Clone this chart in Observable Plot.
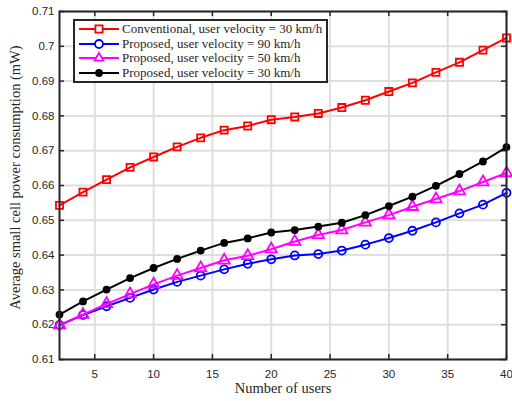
<!DOCTYPE html>
<html>
<head>
<meta charset="utf-8">
<script src="https://cdn.jsdelivr.net/npm/d3@7"></script>
<script src="https://cdn.jsdelivr.net/npm/@observablehq/plot@0.6"></script>
<style>
  html, body { margin: 0; padding: 0; background: #fff; }
  #wrap { position: relative; width: 512px; height: 401px; }
  #legend {
    position: absolute; left: 73px; top: 19px;
    border: 2px solid #262626; background: #fff;
    padding: 1px 4px 1px 3px;
    font-family: "Liberation Serif", serif; font-size: 13px; color: #262626;
  }
  #legend .row { display: flex; align-items: center; height: 14.5px; white-space: nowrap; }
  #legend svg { margin-right: 2px; }
</style>
</head>
<body>
<div id="wrap"><div id="legend"></div></div>
<script>
const users = [2, 4, 6, 8, 10, 12, 14, 16, 18, 20, 22, 24, 26, 28, 30, 32, 34, 36, 38, 40];
const conventional30 = [0.6543, 0.6581, 0.6617, 0.6652, 0.6682, 0.6711, 0.6737, 0.6759, 0.6771, 0.6789, 0.6797, 0.6807, 0.6824, 0.6845, 0.6870, 0.6895, 0.6925, 0.6954, 0.6989, 0.7024];
const proposed90 = [0.6199, 0.6228, 0.6253, 0.6277, 0.6301, 0.6323, 0.6341, 0.6359, 0.6375, 0.6388, 0.6399, 0.6403, 0.6413, 0.6430, 0.6449, 0.6470, 0.6494, 0.6520, 0.6545, 0.6579];
const proposed50 = [0.6199, 0.6229, 0.6260, 0.6288, 0.6316, 0.6341, 0.6363, 0.6385, 0.6398, 0.6417, 0.6439, 0.6458, 0.6472, 0.6494, 0.6515, 0.6539, 0.6561, 0.6584, 0.6610, 0.6636];
const proposed30 = [0.6229, 0.6267, 0.6301, 0.6334, 0.6363, 0.6389, 0.6413, 0.6435, 0.6448, 0.6465, 0.6472, 0.6482, 0.6493, 0.6515, 0.6541, 0.6568, 0.6599, 0.6633, 0.6669, 0.6710];

const seriesNames = [
  "Conventional, user velocity = 30 km/h",
  "Proposed, user velocity = 90 km/h",
  "Proposed, user velocity = 50 km/h",
  "Proposed, user velocity = 30 km/h"
];
const seriesValues = [conventional30, proposed90, proposed50, proposed30];
const seriesColors = ["#ff0000", "#0000ff", "#ff00ff", "#000000"];
const seriesSymbols = ["square", "circle", "triangle", "circle"];
const seriesFill = ["none", "none", "none", "#000000"];
const seriesR = [4, 4, 4.2, 3];

const xTicks = [5, 10, 15, 20, 25, 30, 35, 40];
const yTicks = [0.61, 0.62, 0.63, 0.64, 0.65, 0.66, 0.67, 0.68, 0.69, 0.7, 0.71];
const xLabel = "Number of users";
const yLabel = "Average small cell power consumption (mW)";

const W = 512, H = 401;
const mL = 59, mR = 6, mT = 11, mB = 42;
const fw = W - mL - mR, fh = H - mT - mB;
const tickLen = 5;

const rows = [];
seriesValues.forEach((vals, s) => {
  users.forEach((u, i) => rows.push({series: s, x: u, y: vals[i]}));
});

const marks = [
  Plot.gridX(xTicks, {stroke: "#dedede", strokeOpacity: 1, strokeWidth: 2}),
  Plot.gridY(yTicks, {stroke: "#dedede", strokeOpacity: 1, strokeWidth: 2}),
  Plot.tickX(xTicks, {x: d => d, insetTop: fh - tickLen, stroke: "#262626", strokeWidth: 1.5}),
  Plot.tickX(xTicks, {x: d => d, insetBottom: fh - tickLen, stroke: "#262626", strokeWidth: 1.5}),
  Plot.tickY(yTicks, {y: d => d, insetRight: fw - tickLen, stroke: "#262626", strokeWidth: 1.5}),
  Plot.tickY(yTicks, {y: d => d, insetLeft: fw - tickLen, stroke: "#262626", strokeWidth: 1.5}),
  Plot.axisX({ticks: xTicks, tickSize: 0, tickPadding: 10, fontSize: 11.5, fontFamily: "Liberation Sans, Arial, sans-serif", fill: "#262626", label: null}),
  Plot.axisY({ticks: yTicks, tickSize: 0, tickPadding: 5, fontSize: 11.5, fontFamily: "Liberation Sans, Arial, sans-serif", fill: "#262626", label: null,
    tickFormat: d => String(+d.toFixed(2))})
];
seriesValues.forEach((vals, s) => {
  const data = rows.filter(r => r.series === s);
  marks.push(Plot.line(data, {x: "x", y: "y", stroke: seriesColors[s], strokeWidth: 2}));
  marks.push(Plot.dot(data, {x: "x", y: "y", symbol: seriesSymbols[s], r: seriesR[s],
    stroke: seriesColors[s], fill: seriesFill[s], strokeWidth: 1.8}));
});
marks.push(Plot.frame({stroke: "#262626", strokeWidth: 2}));
marks.push(Plot.text([xLabel], {frameAnchor: "bottom", lineAnchor: "middle", dy: 29, text: d => d, fontSize: 14.5, fontFamily: "Liberation Serif, serif", fill: "#262626"}));
marks.push(Plot.text([yLabel], {frameAnchor: "left", textAnchor: "middle", lineAnchor: "middle", dx: -44, dy: -8, rotate: -90, text: d => d, fontSize: 14.5, fontFamily: "Liberation Serif, serif", fill: "#262626"}));

const chart = Plot.plot({
  width: W, height: H,
  marginLeft: mL, marginRight: mR, marginTop: mT, marginBottom: mB,
  x: {domain: [2, 40]},
  y: {domain: [0.61, 0.71]},
  style: {background: "#fff", overflow: "visible"},
  marks
});
const wrap = document.getElementById("wrap");
wrap.insertBefore(chart, wrap.firstChild);

// legend
const legend = document.getElementById("legend");
const symbolPath = {
  square: d3.symbol(d3.symbolSquare, 52)(),
  circle: d3.symbol(d3.symbolCircle, 50)(),
  triangle: d3.symbol(d3.symbolTriangle2, 56)()
};
seriesNames.forEach((name, s) => {
  const row = document.createElement("div");
  row.className = "row";
  const ns = "http://www.w3.org/2000/svg";
  const svg = document.createElementNS(ns, "svg");
  svg.setAttribute("width", 42); svg.setAttribute("height", 14);
  const line = document.createElementNS(ns, "line");
  line.setAttribute("x1", 1); line.setAttribute("x2", 41);
  line.setAttribute("y1", 7); line.setAttribute("y2", 7);
  line.setAttribute("stroke", seriesColors[s]); line.setAttribute("stroke-width", 2);
  svg.appendChild(line);
  const p = document.createElementNS(ns, "path");
  const sym = s === 3 ? d3.symbol(d3.symbolCircle, 28)() : symbolPath[seriesSymbols[s]];
  p.setAttribute("d", sym);
  p.setAttribute("transform", "translate(21,7)");
  p.setAttribute("stroke", seriesColors[s]);
  p.setAttribute("fill", seriesFill[s] === "none" ? "#fff" : seriesFill[s]);
  p.setAttribute("stroke-width", 1.8);
  svg.appendChild(p);
  row.appendChild(svg);
  const span = document.createElement("span");
  span.textContent = name;
  row.appendChild(span);
  legend.appendChild(row);
});
</script>
</body>
</html>
